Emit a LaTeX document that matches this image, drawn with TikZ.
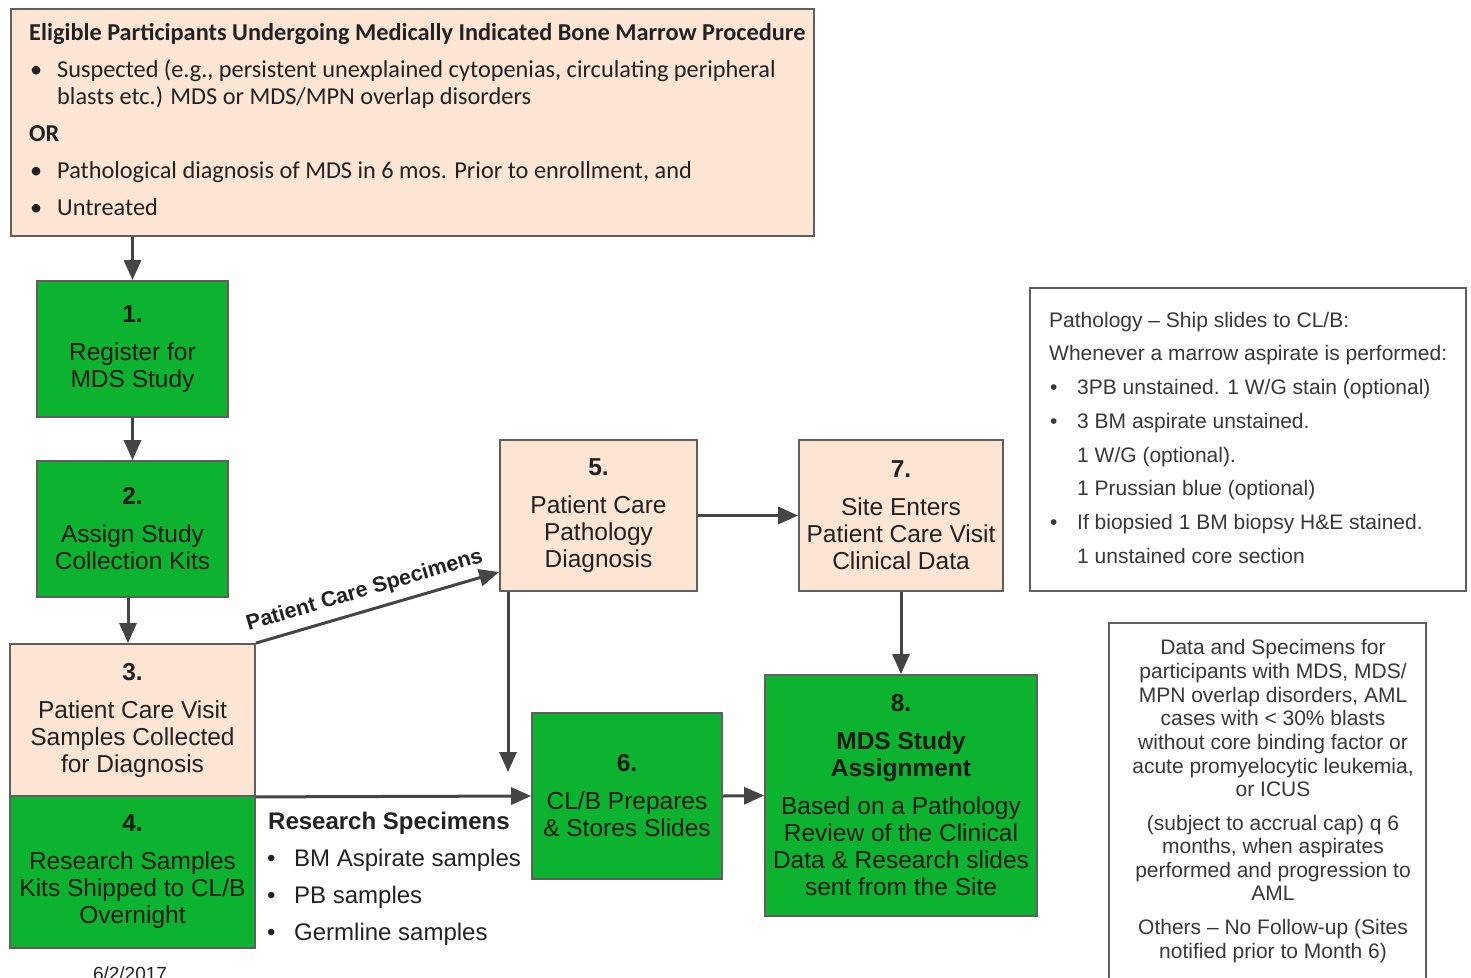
\documentclass[tikz,border=0pt]{standalone}
\usepackage{fontspec}
\setmainfont{Liberation Sans}
\newfontfamily\calibri{Carlito}
\usetikzlibrary{arrows.meta}
\definecolor{peach}{HTML}{FDE5D3}
\definecolor{boxgreen}{HTML}{0CB32F}
\definecolor{bordergray}{HTML}{5F5F5F}
\definecolor{arrowgray}{HTML}{454545}
\definecolor{textdark}{HTML}{222222}
\newcommand{\bxfont}{\fontsize{24.5}{27}\selectfont}
\newcommand{\smfont}{\fontsize{21}{23.6}\selectfont}
\newcommand{\topfont}{\calibri\fontsize{24.3}{27}\selectfont}
\tikzset{
  box/.style={draw=bordergray, line width=1.8pt, inner sep=0pt, align=center, font=\bxfont, text=textdark},
  peachbox/.style={box, fill=peach},
  greenbox/.style={box, fill=boxgreen, text=black!90},
  whitebox/.style={draw=bordergray, line width=1.5pt, inner sep=0pt, fill=white},
  arr/.style={draw=arrowgray, line width=3pt, -{Triangle[length=20pt,width=17pt]}},
  toptxt/.style={anchor=base west, inner sep=0pt, font=\topfont, text=textdark},
  rtxt/.style={anchor=base west, inner sep=0pt, font=\smfont, text=textdark!90},
  brtxt/.style={anchor=base, inner sep=0pt, font=\smfont, text=textdark!90},
  rstxt/.style={anchor=base west, inner sep=0pt, font=\fontsize{24}{27}\selectfont, text=textdark},
}
\begin{document}
\begin{tikzpicture}[x=1pt,y=-1pt]
\path[use as bounding box, fill=white] (0,0) rectangle (1471,977);

% top eligibility box
\node[draw=bordergray, line width=1.5pt, fill=peach, minimum width=803, minimum height=227, anchor=north west, inner sep=0pt] (top) at (10,8) {};
\node[toptxt, font=\topfont\bfseries] (t0) at (29,40) {Eligible Participants Undergoing Medically Indicated Bone Marrow Procedure};
\node[toptxt] (t1b) at (30,77) {\textbullet};
\node[toptxt] (t1) at (57,77) {Suspected (e.g., persistent unexplained cytopenias, circulating peripheral};
\node[toptxt] (t2) at (57,104) {blasts etc.) MDS or MDS/MPN overlap disorders};
\node[toptxt, font=\topfont\bfseries] (tor) at (29,141) {OR};
\node[toptxt] (t3b) at (30,178) {\textbullet};
\node[toptxt] (t3) at (57,178) {Pathological diagnosis of MDS in 6 mos. Prior to enrollment, and};
\node[toptxt] (t4b) at (30,215) {\textbullet};
\node[toptxt] (t4) at (57,215) {Untreated};

% process boxes
\node[greenbox, minimum width=191, minimum height=136] (b1) at (132.5,349) {{\bfseries 1.}\\[11pt]Register for\\MDS Study};
\node[greenbox, minimum width=191, minimum height=136] (b2) at (132.5,529) {{\bfseries 2.}\\[11pt]Assign Study\\Collection Kits};
\node[peachbox, minimum width=245, minimum height=152] (b3) at (132.5,720) {{\bfseries 3.}\\[11pt]Patient Care Visit\\Samples Collected\\for Diagnosis};
\node[greenbox, minimum width=245, minimum height=152] (b4) at (132.5,872) {{\bfseries 4.}\\[11pt]Research Samples\\Kits Shipped to CL/B\\Overnight};
\node[peachbox, minimum width=197, minimum height=151] (b5) at (598.5,515.5) {{\bfseries 5.}\\[11pt]Patient Care\\Pathology\\Diagnosis};
\node[peachbox, minimum width=204, minimum height=151] (b7) at (901,515.5) {{\bfseries 7.}\\[11pt]Site Enters\\Patient Care Visit\\Clinical Data};
\node[greenbox, minimum width=190, minimum height=166] (b6) at (627,796) {{\bfseries 6.}\\[11pt]CL/B Prepares\\\& Stores Slides};
\node[greenbox, minimum width=272, minimum height=241] (b8) at (901,795.5) {{\bfseries 8.}\\[11pt]{\bfseries MDS Study}\\{\bfseries Assignment}\\[11pt]Based on a Pathology\\Review of the Clinical\\Data \& Research slides\\sent from the Site};

% research specimens list
\node[rstxt, font=\fontsize{24}{27}\selectfont\bfseries] (rs0) at (268,829) {Research Specimens};
\node[rstxt] (rs1b) at (267,866) {\textbullet};
\node[rstxt] (rs1) at (294,866) {BM Aspirate samples};
\node[rstxt] (rs2b) at (267,903) {\textbullet};
\node[rstxt] (rs2) at (294,903) {PB samples};
\node[rstxt] (rs3b) at (267,940) {\textbullet};
\node[rstxt] (rs3) at (294,940) {Germline samples};

% pathology box (right)
\node[whitebox, minimum width=436, minimum height=303] (rb) at (1248,439.5) {};
\node[rtxt] (r1) at (1049,327.5) {Pathology -- Ship slides to CL/B:};
\node[rtxt] (r2) at (1049,360.5) {Whenever a marrow aspirate is performed:};
\node[rtxt] (r3b) at (1050,394.5) {\textbullet};
\node[rtxt] (r3) at (1077,394.5) {3PB unstained. 1 W/G stain (optional)};
\node[rtxt] (r4b) at (1050,428.5) {\textbullet};
\node[rtxt] (r4) at (1077,428.5) {3 BM aspirate unstained.};
\node[rtxt] (r5) at (1077,462.5) {1 W/G (optional).};
\node[rtxt] (r6) at (1077,495.5) {1 Prussian blue (optional)};
\node[rtxt] (r7b) at (1050,529.5) {\textbullet};
\node[rtxt] (r7) at (1077,529.5) {If biopsied 1 BM biopsy H\&E stained.};
\node[rtxt] (r8) at (1077,563.5) {1 unstained core section};

% follow-up box (bottom right)
\node[whitebox, minimum width=317, minimum height=420, anchor=north west] (br) at (1108,622) {};
\node[brtxt] (q1) at (1273,654.5) {Data and Specimens for};
\node[brtxt] (q2) at (1273,678.5) {participants with MDS, MDS/};
\node[brtxt] (q3) at (1273,702.5) {MPN overlap disorders, AML};
\node[brtxt] (q4) at (1273,725.5) {cases with < 30\% blasts};
\node[brtxt] (q5) at (1273,749.5) {without core binding factor or};
\node[brtxt] (q6) at (1273,773.5) {acute promyelocytic leukemia,};
\node[brtxt] (q7) at (1273,796.5) {or ICUS};
\node[brtxt] (q8) at (1273,830.5) {(subject to accrual cap) q 6};
\node[brtxt] (q9) at (1273,853.5) {months, when aspirates};
\node[brtxt] (q10) at (1273,877.5) {performed and progression to};
\node[brtxt] (q11) at (1273,900.5) {AML};
\node[brtxt] (q12) at (1273,934.5) {Others -- No Follow-up (Sites};
\node[brtxt] (q13) at (1273,958.5) {notified prior to Month 6)};

% date
\node[anchor=base, inner sep=0pt, font=\fontsize{19}{21}\selectfont, text=textdark] (date) at (130,980) {6/2/2017};

% connectors
\coordinate (c56) at (508,772);
\draw[arr] (b1.north |- top.south) -- (b1.north);
\draw[arr] (b1.south) -- (b2.north);
\draw[arr] ([xshift=-4.5pt]b2.south) -- ([xshift=-4.5pt]b3.north);
\draw[arr] (b3.north east) -- node[sloped, above, pos=0.47, inner sep=8pt, font=\fontsize{21.5}{23}\selectfont\bfseries, text=textdark] (lblpcs) {Patient Care Specimens} ([yshift=-56.5pt]b5.west);
\draw[arr] (b5.east) -- (b7.west);
\draw[arr] (b5.south west -| c56) -- (c56);
\draw[arr] (b3.south east) -- (b6.west);
\draw[arr] (b6.east) -- (b8.west);
\draw[arr] (b7.south) -- (b8.north);
\end{tikzpicture}
\end{document}
